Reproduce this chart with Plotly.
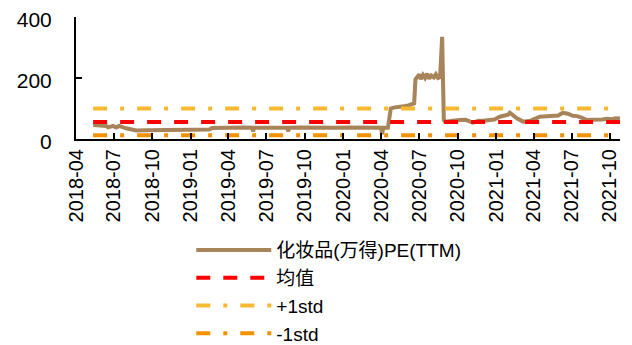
import plotly.graph_objects as go

# ---- data ----
pe_dates = [
    "2018-05-12", "2018-05-25", "2018-06-05", "2018-06-12", "2018-06-17", "2018-06-29",
    "2018-07-06", "2018-07-13", "2018-07-30", "2018-08-16", "2018-08-23", "2018-09-20",
    "2018-10-18", "2018-11-15", "2018-12-13", "2019-01-10", "2019-02-07", "2019-02-14",
    "2019-02-21", "2019-03-14", "2019-04-11", "2019-05-09", "2019-05-28", "2019-05-30",
    "2019-06-02", "2019-06-27", "2019-07-25", "2019-08-20", "2019-08-22", "2019-08-25",
    "2019-09-19", "2019-10-17", "2019-11-14", "2019-12-12", "2020-01-09", "2020-02-06",
    "2020-03-05", "2020-04-01", "2020-04-03", "2020-04-06", "2020-04-17", "2020-04-24",
    "2020-05-01", "2020-05-15", "2020-05-29", "2020-06-05", "2020-06-12", "2020-06-19",
    "2020-06-22", "2020-06-26", "2020-07-01", "2020-07-05", "2020-07-10", "2020-07-15",
    "2020-07-20", "2020-07-25", "2020-07-30", "2020-08-05", "2020-08-10", "2020-08-15",
    "2020-08-20", "2020-08-25", "2020-08-27", "2020-08-29", "2020-09-01", "2020-09-13",
    "2020-09-25", "2020-10-07", "2020-10-20", "2020-11-07", "2020-11-20", "2020-12-01",
    "2020-12-15", "2020-12-28", "2021-01-10", "2021-01-22", "2021-01-30", "2021-02-03",
    "2021-02-10", "2021-02-20", "2021-03-07", "2021-03-25", "2021-04-16", "2021-04-28",
    "2021-05-17", "2021-05-30", "2021-06-10", "2021-06-22", "2021-07-04", "2021-07-14",
    "2021-07-25", "2021-08-07", "2021-08-20", "2021-08-31", "2021-09-12", "2021-09-25",
    "2021-10-05", "2021-10-15", "2021-10-25",
]
pe_values = [
    46, 44, 45, 43, 38, 43,
    38, 43, 35, 30, 28, 29,
    29, 30, 29, 28, 29, 31,
    36, 37, 37, 38, 37, 25,
    37, 38, 37, 37, 25, 37,
    38, 37, 38, 37, 38, 37,
    38, 37, 16, 37, 37, 100,
    103, 104, 108, 110, 113, 117,
    195, 205, 212, 196, 210, 200,
    214, 198, 208, 202, 212, 200,
    203, 335, 200, 62, 57, 60,
    61, 62, 63, 54, 60, 60,
    61, 64, 73, 78, 80, 86,
    78, 68, 57, 60, 73, 74,
    75, 77, 86, 83, 76, 75,
    70, 62, 63, 62, 64, 66,
    65, 68, 67,
]

mean_value = 56
plus_std_value = 100
minus_std_value = 12

series_names = ["化妆品(万得)PE(TTM)", "均值", "+1std", "-1std"]

x_range = ["2018-04-01", "2021-10-25"]
y_range = [0, 400]
y_ticks = [0, 200, 400]

FONT = "Arial, Liberation Sans, Noto Sans CJK SC, sans-serif"

band_x = [pe_dates[0], pe_dates[-1]]

fig = go.Figure()
fig.add_trace(go.Scatter(
    x=pe_dates, y=pe_values, name=series_names[0], mode="lines",
    line=dict(color="#A8845A", width=4),
))
fig.add_trace(go.Scatter(
    x=band_x, y=[mean_value] * 2, name=series_names[1], mode="lines",
    line=dict(color="#FF0000", width=4, dash="14px,13px"),
))
fig.add_trace(go.Scatter(
    x=band_x, y=[plus_std_value] * 2, name=series_names[2], mode="lines",
    line=dict(color="#F8B932", width=4, dash="14px,13px,4px,13px"),
))
fig.add_trace(go.Scatter(
    x=band_x, y=[minus_std_value] * 2, name=series_names[3], mode="lines",
    line=dict(color="#F39200", width=4, dash="14px,13px,4px,13px"),
))

fig.update_layout(
    width=632, height=345,
    margin=dict(l=68, r=20, t=9, b=214, autoexpand=False),
    paper_bgcolor="white", plot_bgcolor="white",
    font=dict(family=FONT, size=20, color="#000000"),
    showlegend=True,
    legend=dict(
        xref="container", yref="container",
        x=0.290, y=0.353, xanchor="left", yanchor="top",
        font=dict(family=FONT, size=19, color="#000000"),
        itemwidth=75, tracegroupgap=0, bgcolor="rgba(0,0,0,0)",
    ),
    xaxis=dict(
        type="date", range=x_range, tick0="2018-04-01", dtick="M3",
        tickformat="%Y-%m", tickangle=-90,
        ticks="inside", ticklen=6, tickwidth=2, tickcolor="#000",
        showline=True, linecolor="#000", linewidth=2,
        showgrid=False, zeroline=False,
        tickfont=dict(family=FONT, size=20, color="#000"),
        ticklabeloverflow="allow",
    ),
    yaxis=dict(
        range=y_range, tickvals=y_ticks,
        ticks="inside", ticklen=6, tickwidth=2, tickcolor="#000",
        showline=True, linecolor="#000", linewidth=2,
        showgrid=False, zeroline=False,
        tickfont=dict(family=FONT, size=21, color="#000"),
        ticklabelstandoff=18, ticklabelshift=3,
        ticklabeloverflow="allow",
    ),
)

fig.write_html("out.html")
